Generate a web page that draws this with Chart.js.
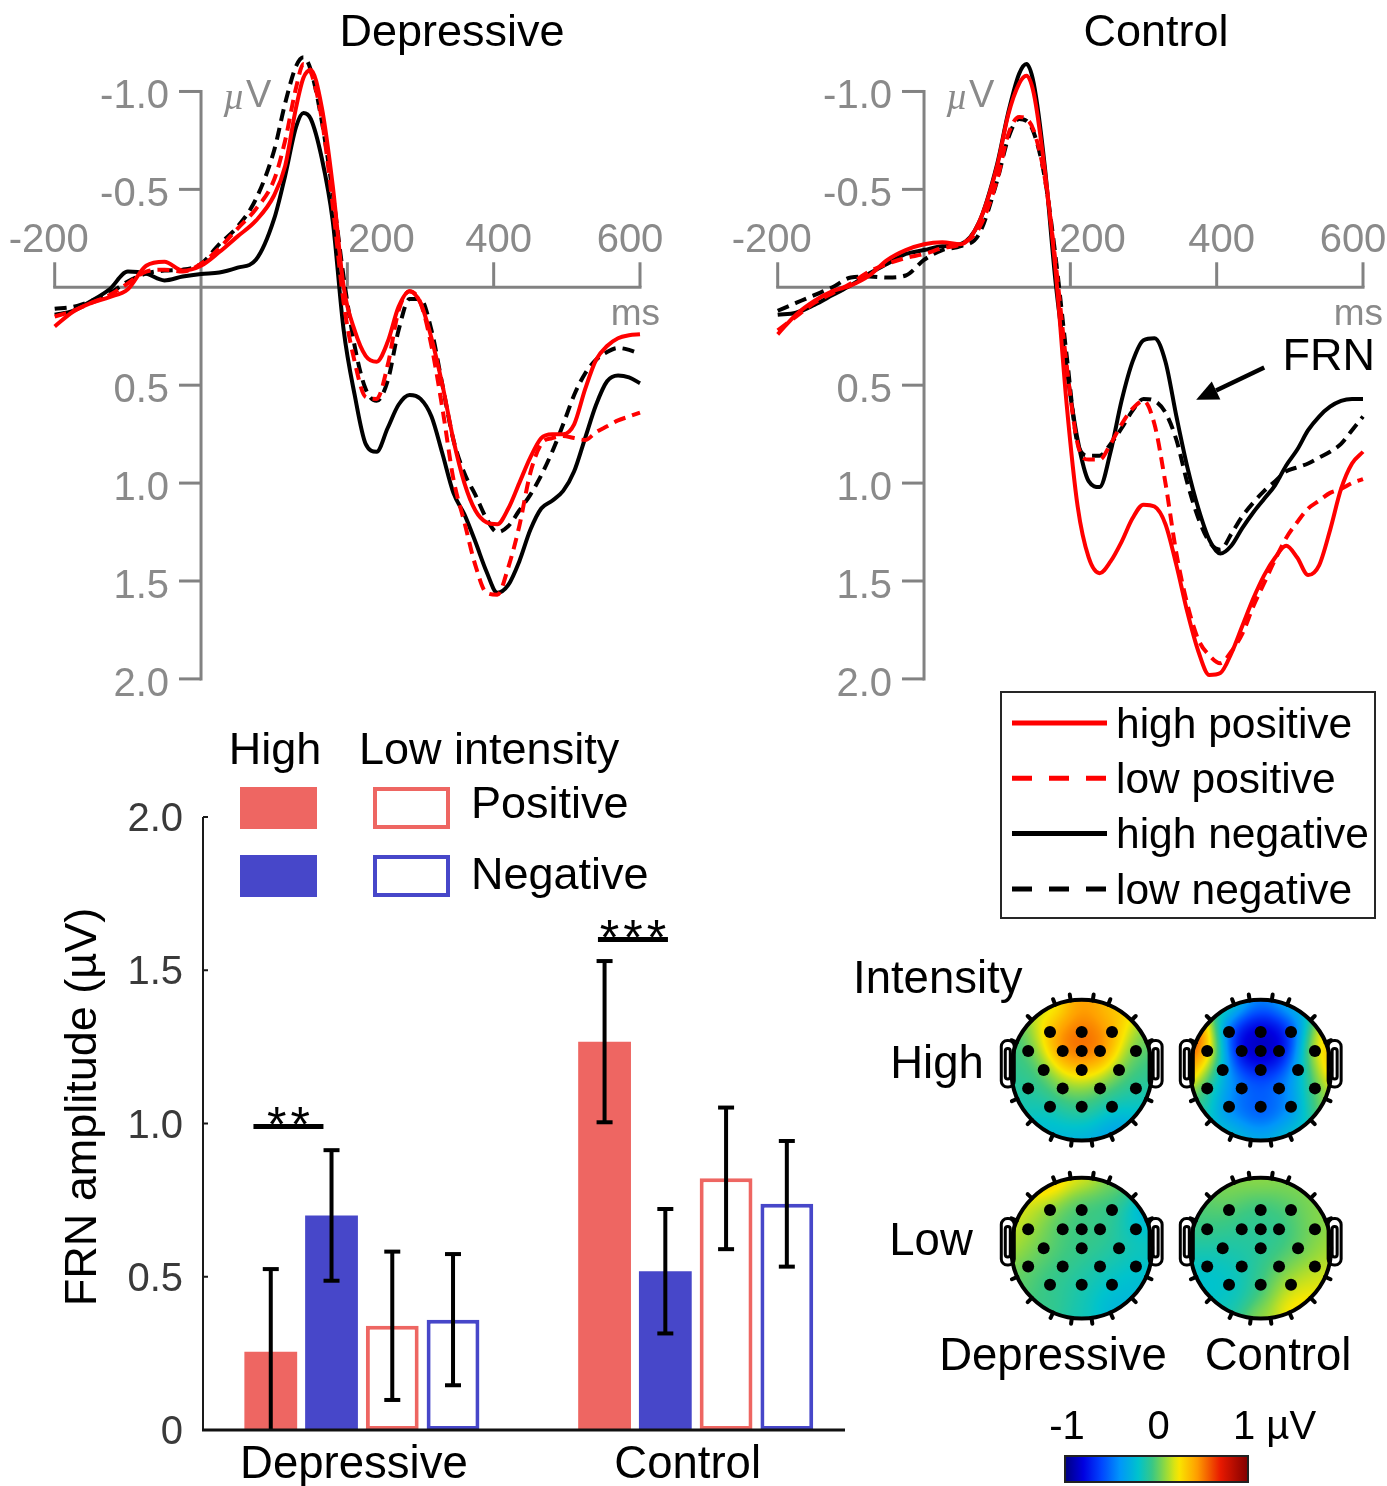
<!DOCTYPE html>
<html><head><meta charset="utf-8">
<script src="https://cdn.jsdelivr.net/npm/chart.js@4.4.1/dist/chart.umd.min.js"></script>
<style>
html,body{margin:0;padding:0;background:#fff;}
#wrap{position:relative;width:1387px;height:1486px;overflow:hidden;background:#fff;}
canvas{position:absolute;}
</style></head><body>
<div id="wrap">
<canvas id="erpDep" width="720" height="720" style="left:0;top:0;width:720px;height:720px"></canvas>
<canvas id="erpCon" width="667" height="930" style="left:720px;top:0;width:667px;height:930px"></canvas>
<canvas id="bars" width="870" height="766" style="left:0;top:720px;width:870px;height:766px"></canvas>
<canvas id="topo" width="547" height="556" style="left:840px;top:930px;width:547px;height:556px"></canvas>
</div>
<script>
// ---------------- DATA ----------------
const times = [-200,-175,-150,-125,-100,-75,-50,-25,0,25,50,75,100,115,130,140,150,165,180,195,210,225,240,255,270,285,300,315,330,345,360,375,390,405,420,435,450,465,480,495,510,525,540,555,570,585,600];

const depHighPos = [0.20,0.125,0.08,0.05,0.01,-0.11,-0.13,-0.085,-0.11,-0.18,-0.26,-0.34,-0.47,-0.62,-0.92,-1.07,-1.11,-0.92,-0.52,0.0,0.22,0.35,0.38,0.28,0.10,0.02,0.08,0.26,0.50,0.78,1.0,1.14,1.20,1.21,1.13,1.00,0.87,0.77,0.75,0.75,0.70,0.52,0.37,0.30,0.26,0.245,0.24];
const depLowPos  = [0.15,0.12,0.08,0.04,-0.02,-0.08,-0.09,-0.08,-0.12,-0.20,-0.30,-0.40,-0.55,-0.75,-1.02,-1.14,-1.10,-0.86,-0.42,0.08,0.38,0.56,0.57,0.40,0.12,0.02,0.08,0.30,0.62,0.98,1.20,1.42,1.56,1.57,1.43,1.22,0.95,0.80,0.77,0.76,0.77,0.78,0.74,0.71,0.68,0.66,0.64];
const depHighNeg = [0.14,0.12,0.07,0.01,-0.08,-0.07,-0.035,-0.055,-0.068,-0.075,-0.10,-0.14,-0.35,-0.57,-0.82,-0.89,-0.86,-0.66,-0.34,0.22,0.55,0.80,0.84,0.72,0.60,0.55,0.57,0.66,0.85,1.05,1.16,1.30,1.45,1.56,1.52,1.40,1.24,1.13,1.09,1.04,0.94,0.77,0.60,0.48,0.45,0.46,0.49];
const depLowNeg  = [0.11,0.10,0.07,0.03,-0.03,-0.07,-0.085,-0.09,-0.12,-0.22,-0.31,-0.45,-0.70,-0.94,-1.13,-1.175,-1.11,-0.85,-0.48,-0.05,0.30,0.52,0.58,0.48,0.22,0.06,0.06,0.22,0.50,0.78,0.95,1.06,1.18,1.25,1.22,1.14,1.06,0.96,0.84,0.70,0.55,0.44,0.37,0.33,0.31,0.32,0.34];

const conHighPos = [0.24,0.14,0.07,0.02,-0.01,-0.06,-0.14,-0.19,-0.22,-0.23,-0.22,-0.33,-0.62,-0.88,-1.04,-1.08,-0.99,-0.60,-0.08,0.60,1.12,1.38,1.46,1.40,1.30,1.18,1.11,1.12,1.21,1.42,1.66,1.86,1.98,1.97,1.87,1.73,1.59,1.47,1.38,1.32,1.38,1.47,1.42,1.24,1.03,0.90,0.84];
const conLowPos  = [0.22,0.15,0.08,0.03,-0.02,-0.08,-0.12,-0.15,-0.17,-0.20,-0.22,-0.30,-0.55,-0.78,-0.87,-0.86,-0.80,-0.56,-0.12,0.40,0.80,0.88,0.88,0.80,0.70,0.62,0.58,0.70,1.00,1.36,1.62,1.80,1.88,1.92,1.86,1.77,1.63,1.51,1.39,1.28,1.20,1.13,1.09,1.05,1.03,1.00,0.98];
const conHighNeg = [0.14,0.13,0.09,0.04,-0.01,-0.07,-0.12,-0.17,-0.19,-0.21,-0.22,-0.33,-0.63,-0.89,-1.09,-1.14,-1.04,-0.62,-0.02,0.42,0.78,0.99,1.02,0.84,0.58,0.38,0.27,0.26,0.38,0.66,0.92,1.13,1.29,1.36,1.32,1.23,1.15,1.08,1.01,0.91,0.83,0.73,0.66,0.61,0.58,0.57,0.57];
const conLowNeg  = [0.12,0.08,0.04,0.0,-0.05,-0.055,-0.05,-0.06,-0.14,-0.19,-0.21,-0.27,-0.545,-0.76,-0.86,-0.85,-0.79,-0.56,-0.15,0.35,0.80,0.86,0.86,0.80,0.72,0.63,0.57,0.58,0.64,0.78,1.00,1.18,1.30,1.34,1.26,1.17,1.10,1.04,0.99,0.94,0.92,0.90,0.87,0.84,0.80,0.73,0.66];

const erpLabels = ['high positive','low positive','high negative','low negative'];
const erpYTicks = [-1.0,-0.5,0.5,1.0,1.5,2.0];
const erpXTicks = [-200,200,400,600];
const frnArrow = {fromT:465, fromV:0.41, toT:372, toV:0.575, textT:490, textV:0.36, text:'FRN'};

// bar chart
const groups = ['Depressive','Control'];
const barSeries = ['High Positive','High Negative','Low Positive','Low Negative'];
const highPos = [0.255,1.267];
const highNeg = [0.70,0.518];
const lowPos  = [0.34,0.821];
const lowNeg  = [0.36,0.738];
const highPosErr = [0.27,0.263];
const highNegErr = [0.213,0.203];
const lowPosErr  = [0.242,0.231];
const lowNegErr  = [0.214,0.205];
const barYTicks = [0,0.5,1.0,1.5,2.0];
const sigGroup = [0,1];
const sigY = [0.99,1.60];
const sigLabel = ['**','***'];

// topographic maps
const topoRows = ['High','Low'];
const topoCols = ['Depressive','Control'];
const elecX = [-0.45,0,0.43,-0.76,-0.27,0,0.26,0.77,-0.54,0,0.53,-0.76,-0.27,0.26,0.77,-0.45,0,0.43];
const elecY = [-0.54,-0.54,-0.54,-0.27,-0.27,-0.27,-0.27,-0.27,0,0,0,0.26,0.26,0.26,0.26,0.52,0.52,0.52];
const rimAngles = [0,30,60,90,120,150,180,210,240,270,300,330];
const highDepElec = [0.42,0.5,0.42, -0.05,0.58,0.64,0.58,-0.02, -0.02,0.25,0.02, -0.1,0.12,0.08,-0.08, -0.2,-0.1,-0.22];
const highDepRim  = [-0.08,-0.22,-0.38,-0.28,-0.25,-0.15,-0.08,-0.05,0.12,0.45,0.3,0.05];
const highConElec = [-0.78,-0.8,-0.78, 0.55,-0.92,-0.98,-0.92,0.3, -0.35,-0.65,-0.35, -0.08,-0.45,-0.45,0.0, -0.55,-0.62,-0.5];
const highConRim  = [0.5,0.15,-0.15,-0.3,-0.15,0.0,0.6,0.8,0.0,-0.45,-0.15,0.4];
const lowDepElec  = [0.05,-0.03,-0.06, 0.1,-0.03,-0.05,-0.06,-0.18, 0.03,-0.05,-0.1, 0.0,-0.05,-0.12,-0.2, -0.08,-0.14,-0.22];
const lowDepRim   = [-0.15,-0.25,-0.28,-0.15,-0.05,0.02,0.18,0.25,0.4,0.22,0.05,-0.35];
const lowConElec  = [0.02,-0.02,0.0, -0.05,-0.1,-0.1,-0.08,0.05, -0.12,-0.1,0.0, -0.2,-0.15,0.0,0.12, -0.22,-0.05,0.2];
const lowConRim   = [0.15,0.25,0.3,0.1,-0.15,-0.22,-0.12,0.0,0.08,0.1,0.08,0.1];
const cbTicks = [-1,0,1];
const cbTickLabels = ['-1','0','1 µV'];

// ---------------- STYLE ----------------
const FONT = '"Liberation Sans", Arial, Helvetica, sans-serif';
const AXIS_GRAY = '#828282';
const LABEL_GRAY = '#8a8a8a';
const erpColors = ['#ff0000','#ff0000','#000000','#000000'];
const erpDashed = [false,true,false,true];
const RED = '#ee6662';
const BLUE = '#4747c9';
Chart.defaults.font.family = FONT;

const cmapStops = [
  [0.00, 0, 0, 128], [0.10, 0, 0, 225], [0.20, 0, 70, 255], [0.30, 0, 150, 250],
  [0.40, 0, 195, 205], [0.48, 60, 200, 130], [0.55, 150, 218, 60], [0.62, 250, 232, 0],
  [0.72, 255, 160, 0], [0.85, 232, 25, 0], [1.00, 128, 0, 0]
];
function cmap(v){
  const s = Math.max(0, Math.min(1, (v + 1) / 2));
  for (let i = 1; i < cmapStops.length; i++) {
    const a = cmapStops[i - 1], b = cmapStops[i];
    if (s <= b[0]) {
      const f = (s - a[0]) / (b[0] - a[0]);
      return [a[1] + f * (b[1] - a[1]), a[2] + f * (b[2] - a[2]), a[3] + f * (b[3] - a[3])];
    }
  }
  const l = cmapStops[cmapStops.length - 1]; return [l[1], l[2], l[3]];
}

// ---------------- ERP CHARTS ----------------
const erpDecor = {
  id: 'erpDecor',
  beforeDatasetsDraw(chart, args, o) {
    const ctx = chart.ctx, xs = chart.scales.x, ys = chart.scales.y;
    const x0 = xs.getPixelForValue(0), y0 = ys.getPixelForValue(0);
    ctx.save();
    ctx.strokeStyle = AXIS_GRAY; ctx.lineWidth = 3; ctx.lineCap = 'butt';
    ctx.beginPath();
    ctx.moveTo(x0, ys.getPixelForValue(erpYTicks[0]) - 1.5);
    ctx.lineTo(x0, ys.getPixelForValue(erpYTicks[erpYTicks.length - 1]) + 1.5);
    ctx.stroke();
    ctx.fillStyle = LABEL_GRAY; ctx.font = '40px ' + FONT; ctx.textAlign = 'right'; ctx.textBaseline = 'middle';
    erpYTicks.forEach(v => {
      const y = ys.getPixelForValue(v);
      ctx.beginPath(); ctx.moveTo(x0 - 22, y); ctx.lineTo(x0, y); ctx.stroke();
      ctx.fillText(v.toFixed(1), x0 - 32, y + 6);
    });
    const xa = xs.getPixelForValue(erpXTicks[0]), xb = xs.getPixelForValue(erpXTicks[erpXTicks.length - 1]);
    ctx.beginPath(); ctx.moveTo(xa - 1.5, y0); ctx.lineTo(xb + 1.5, y0); ctx.stroke();
    ctx.textAlign = 'center';
    erpXTicks.forEach((t, i) => {
      const x = xs.getPixelForValue(t);
      ctx.beginPath(); ctx.moveTo(x, y0); ctx.lineTo(x, y0 - 25); ctx.stroke();
      ctx.fillText(String(t), x + o.xShift[i], y0 - 46);
    });
    ctx.textAlign = 'left';
    ctx.font = 'italic 38px "Liberation Serif", "DejaVu Serif", serif';
    const yTop = ys.getPixelForValue(erpYTicks[0]);
    ctx.fillText('µ', x0 + 22, yTop + 8);
    const mw = ctx.measureText('µ').width;
    ctx.font = '38px ' + FONT;
    ctx.fillText('V', x0 + 22 + mw + 1, yTop + 5);
    ctx.textAlign = 'right';
    ctx.font = '37px ' + FONT;
    ctx.fillText('ms', xb + 20, y0 + 28);
    ctx.fillStyle = '#000'; ctx.textAlign = 'center'; ctx.font = '45px ' + FONT;
    ctx.fillText(o.title, o.titleX, 34);
    ctx.restore();
  },
  afterDatasetsDraw(chart, args, o) {
    const ctx = chart.ctx, xs = chart.scales.x, ys = chart.scales.y;
    ctx.save();
    if (o.frn) {
      const x1 = xs.getPixelForValue(frnArrow.fromT), y1 = ys.getPixelForValue(frnArrow.fromV);
      const x2 = xs.getPixelForValue(frnArrow.toT), y2 = ys.getPixelForValue(frnArrow.toV);
      const ang = Math.atan2(y2 - y1, x2 - x1);
      const hl = 22, hw = 10;
      const bx = x2 - hl * Math.cos(ang), by = y2 - hl * Math.sin(ang);
      ctx.strokeStyle = '#000'; ctx.lineWidth = 4.5;
      ctx.beginPath(); ctx.moveTo(x1, y1); ctx.lineTo(bx, by); ctx.stroke();
      ctx.fillStyle = '#000';
      ctx.beginPath(); ctx.moveTo(x2, y2);
      ctx.lineTo(bx + hw * Math.sin(ang), by - hw * Math.cos(ang));
      ctx.lineTo(bx - hw * Math.sin(ang), by + hw * Math.cos(ang));
      ctx.closePath(); ctx.fill();
      ctx.font = '45px ' + FONT; ctx.textAlign = 'left'; ctx.textBaseline = 'middle';
      ctx.fillText(frnArrow.text, xs.getPixelForValue(frnArrow.textT), ys.getPixelForValue(frnArrow.textV));
    }
    if (o.legend) {
      const b = o.legend;
      ctx.strokeStyle = '#262626'; ctx.lineWidth = 2;
      ctx.strokeRect(b.x, b.y, b.w, b.h);
      ctx.font = '42.5px ' + FONT; ctx.textAlign = 'left'; ctx.textBaseline = 'middle';
      chart.data.datasets.forEach((d, i) => {
        const y = b.y + 31 + i * 55.3;
        ctx.strokeStyle = d.borderColor; ctx.lineWidth = 5;
        ctx.setLineDash(d.borderDash && d.borderDash.length ? [20, 17] : []);
        ctx.beginPath(); ctx.moveTo(b.x + 11, y); ctx.lineTo(b.x + 106, y); ctx.stroke();
        ctx.setLineDash([]);
        ctx.fillStyle = '#000';
        ctx.fillText(d.label, b.x + 115, y + 3);
      });
    }
    ctx.restore();
  }
};

function makeErp(id, series, padding, decor) {
  const datasets = series.map((vals, i) => ({
    label: erpLabels[i],
    data: times.map((t, k) => ({x: t, y: vals[k]})),
    borderColor: erpColors[i],
    borderWidth: 4,
    borderDash: erpDashed[i] ? [12, 7] : [],
    pointRadius: 0,
    fill: false,
    cubicInterpolationMode: 'monotone',
    clip: false
  }));
  return new Chart(document.getElementById(id), {
    type: 'line',
    data: {datasets},
    options: {
      responsive: false, animation: false, devicePixelRatio: 1,
      layout: {padding},
      plugins: {legend: {display: false}, tooltip: {enabled: false}, title: {display: false}, erpDecor: decor},
      scales: {
        x: {type: 'linear', min: -200, max: 600, display: false},
        y: {type: 'linear', min: -1.2, max: 2.0, reverse: true, display: false}
      }
    },
    plugins: [erpDecor]
  });
}

makeErp('erpDep', [depHighPos, depLowPos, depHighNeg, depLowNeg],
  {left: 54.7, right: 80, top: 52.3, bottom: 41.1},
  {title: 'Depressive', titleX: 452, xShift: [-6, 34, 5, -10], frn: false, legend: null});
makeErp('erpCon', [conHighPos, conLowPos, conHighNeg, conLowNeg],
  {left: 57.7, right: 24, top: 52.3, bottom: 251.1},
  {title: 'Control', titleX: 436, xShift: [-6, 22, 5, -10], frn: true, legend: {x: 281, y: 692, w: 374, h: 226}});

// ---------------- BAR CHART ----------------
const barVals = [highPos, highNeg, lowPos, lowNeg];
const barErrs = [highPosErr, highNegErr, lowPosErr, lowNegErr];
const barFilled = [true, true, false, false];
const barColors = [RED, BLUE, RED, BLUE];
const sigShift = [-12.7, -2];

const barDecor = {
  id: 'barDecor',
  afterDatasetsDraw(chart) {
    const ctx = chart.ctx, xs = chart.scales.x, ys = chart.scales.y;
    const axX = 203, axR = 845;
    const y0 = ys.getPixelForValue(0);
    ctx.save();
    ctx.strokeStyle = '#000'; ctx.lineWidth = 4; ctx.lineCap = 'butt';
    chart.data.datasets.forEach((d, i) => {
      chart.getDatasetMeta(i).data.forEach((el, j) => {
        const v = barVals[i][j], e = barErrs[i][j];
        const yt = ys.getPixelForValue(v + e);
        const yb = Math.min(ys.getPixelForValue(v - e), y0);
        ctx.beginPath(); ctx.moveTo(el.x, yt); ctx.lineTo(el.x, yb); ctx.stroke();
        ctx.beginPath(); ctx.moveTo(el.x - 8, yt); ctx.lineTo(el.x + 8, yt); ctx.stroke();
        if (yb < y0 - 2) { ctx.beginPath(); ctx.moveTo(el.x - 8, yb); ctx.lineTo(el.x + 8, yb); ctx.stroke(); }
      });
    });
    sigGroup.forEach((g, k) => {
      const c1 = chart.getDatasetMeta(0).data[g].x, c2 = chart.getDatasetMeta(1).data[g].x;
      const mid = (c1 + c2) / 2 + sigShift[k];
      const y = ys.getPixelForValue(sigY[k]);
      ctx.lineWidth = 5;
      ctx.beginPath(); ctx.moveTo(mid - 35, y); ctx.lineTo(mid + 35, y); ctx.stroke();
      ctx.fillStyle = '#000'; ctx.font = '50px ' + FONT; ctx.textAlign = 'center'; ctx.textBaseline = 'alphabetic';
      const n = sigLabel[k].length;
      for (let s = 0; s < n; s++) ctx.fillText('*', mid + (s - (n - 1) / 2) * 23.5, y + 15);
    });
    ctx.strokeStyle = '#1a1a1a'; ctx.lineWidth = 2;
    ctx.beginPath(); ctx.moveTo(axX, ys.getPixelForValue(barYTicks[barYTicks.length - 1])); ctx.lineTo(axX, y0); ctx.stroke();
    ctx.fillStyle = '#3a3a3a'; ctx.font = '40px ' + FONT; ctx.textAlign = 'right'; ctx.textBaseline = 'middle';
    barYTicks.forEach(v => {
      const y = ys.getPixelForValue(v);
      ctx.beginPath(); ctx.moveTo(axX, y); ctx.lineTo(axX + 5, y); ctx.stroke();
      ctx.fillText(v === 0 ? '0' : v.toFixed(1), axX - 20, y + 3);
    });
    ctx.strokeStyle = '#111'; ctx.lineWidth = 3;
    ctx.beginPath(); ctx.moveTo(axX - 1, y0); ctx.lineTo(axR, y0); ctx.stroke();
    ctx.fillStyle = '#000'; ctx.font = '45.5px ' + FONT; ctx.textAlign = 'center';
    groups.forEach((g, i) => ctx.fillText(g, xs.getPixelForValue(i) - 8, 745));
    ctx.save(); ctx.translate(84, 387); ctx.rotate(-Math.PI / 2);
    ctx.font = '45px ' + FONT; ctx.fillText('FRN amplitude (µV)', 0, 0); ctx.restore();
    ctx.font = '45px ' + FONT; ctx.textBaseline = 'middle';
    ctx.textAlign = 'center'; ctx.fillText('High', 275, 32);
    ctx.textAlign = 'left'; ctx.fillText('Low intensity', 359, 32);
    const sw = [[240, 67], [240, 135], [373, 67], [373, 135]];
    chart.data.datasets.forEach((d, i) => {
      const [sx, sy] = sw[i];
      if (barFilled[i]) { ctx.fillStyle = barColors[i]; ctx.fillRect(sx, sy, 77, 42); }
      else { ctx.strokeStyle = barColors[i]; ctx.lineWidth = 4; ctx.strokeRect(sx + 2, sy + 2, 73, 38); }
    });
    ctx.fillStyle = '#000';
    ctx.fillText('Positive', 471, 86);
    ctx.fillText('Negative', 471, 157);
    ctx.restore();
  }
};

new Chart(document.getElementById('bars'), {
  type: 'bar',
  data: {
    labels: groups,
    datasets: barVals.map((vals, i) => ({
      label: barSeries[i],
      data: vals,
      backgroundColor: barFilled[i] ? barColors[i] : '#ffffff',
      borderColor: barColors[i],
      borderWidth: barFilled[i] ? 0 : 4,
      borderSkipped: false,
      categoryPercentage: 0.728,
      barPercentage: 0.869
    }))
  },
  options: {
    responsive: false, animation: false, devicePixelRatio: 1,
    layout: {padding: {left: 195, right: 7.4, top: 97, bottom: 56}},
    plugins: {legend: {display: false}, tooltip: {enabled: false}, title: {display: false}},
    scales: {
      x: {type: 'category', display: false, offset: true},
      y: {type: 'linear', min: 0, max: 2.0, display: false}
    }
  },
  plugins: [barDecor]
});

// ---------------- TOPO MAPS ----------------
const topoVals = {
  'High|Depressive': [highDepElec, highDepRim],
  'High|Control': [highConElec, highConRim],
  'Low|Depressive': [lowDepElec, lowDepRim],
  'Low|Control': [lowConElec, lowConRim]
};
const COL_STEP = 2.542, ROW_STEP = 2.528, SIG = 0.23;
const heads = [];
topoRows.forEach((r, ri) => topoCols.forEach((c, ci) => {
  const v = topoVals[r + '|' + c];
  heads.push({cx: ci * COL_STEP, cy: ri * ROW_STEP, elec: v[0], rim: v[1]});
}));

const topoDecor = {
  id: 'topoDecor',
  beforeDatasetsDraw(chart) {
    const ctx = chart.ctx, xs = chart.scales.x, ys = chart.scales.y;
    const R = xs.getPixelForValue(1) - xs.getPixelForValue(0);
    ctx.save();
    heads.forEach(h => {
      const cx = xs.getPixelForValue(h.cx), cy = ys.getPixelForValue(h.cy);
      const pts = elecX.map((x, k) => [x, elecY[k], h.elec[k]]).concat(
        rimAngles.map((a, k) => [Math.cos(a * Math.PI / 180) * 1.02, Math.sin(a * Math.PI / 180) * 1.02, h.rim[k]]));
      const S = Math.ceil(2 * R) + 4;
      const off = document.createElement('canvas'); off.width = S; off.height = S;
      const octx = off.getContext('2d'); const img = octx.createImageData(S, S);
      for (let py = 0; py < S; py++) for (let px = 0; px < S; px++) {
        const ux = (px + 0.5 - S / 2) / R, uy = (py + 0.5 - S / 2) / R;
        let sw = 0, sv = 0, best = 1e9, bv = 0;
        for (const p of pts) {
          const d2 = (ux - p[0]) ** 2 + (uy - p[1]) ** 2;
          const w = Math.exp(-d2 / (2 * SIG * SIG)); sw += w; sv += w * p[2];
          if (d2 < best) { best = d2; bv = p[2]; }
        }
        const v = sw > 1e-9 ? sv / sw : bv;
        const col = cmap(v); const i = (py * S + px) * 4;
        img.data[i] = col[0]; img.data[i + 1] = col[1]; img.data[i + 2] = col[2]; img.data[i + 3] = 255;
      }
      octx.putImageData(img, 0, 0);
      ctx.save(); ctx.beginPath(); ctx.arc(cx, cy, R, 0, 2 * Math.PI); ctx.clip();
      ctx.drawImage(off, cx - S / 2, cy - S / 2); ctx.restore();
      ctx.strokeStyle = '#000'; ctx.lineWidth = 4;
      ctx.beginPath(); ctx.arc(cx, cy, R, 0, 2 * Math.PI); ctx.stroke();
      ctx.lineWidth = 3;
      [-1, 1].forEach(sd => {
        const ex = sd < 0 ? cx - R - 10 : cx + R - 3;
        const ey = cy - 0.42 * R, eh = 0.66 * R;
        ctx.beginPath(); ctx.roundRect(ex, ey, 13, eh, 6); ctx.stroke();
        ctx.beginPath(); ctx.roundRect(ex + 4, ey + 8, 5, eh - 16, 3); ctx.stroke();
      });
      ctx.lineWidth = 4; ctx.lineCap = 'round';
      [-112, -99, -81, -68, -135, -45, -157, -23, 24, 156, 45, 135, 66, 114, 82, 98].forEach(a => {
        const r = a * Math.PI / 180;
        ctx.beginPath();
        ctx.moveTo(cx + Math.cos(r) * R, cy + Math.sin(r) * R);
        ctx.lineTo(cx + Math.cos(r) * (R + 6), cy + Math.sin(r) * (R + 6));
        ctx.stroke();
      });
    });
    ctx.restore();
  },
  afterDraw(chart) {
    const ctx = chart.ctx;
    ctx.save();
    ctx.fillStyle = '#000'; ctx.font = '45.5px ' + FONT; ctx.textBaseline = 'middle';
    ctx.textAlign = 'left'; ctx.fillText('Intensity', 13, 50);
    ctx.textAlign = 'center';
    ctx.fillText(topoRows[0], 97, 135);
    ctx.fillText(topoRows[1], 91, 312);
    ctx.fillText(topoCols[0], 213, 427);
    ctx.fillText(topoCols[1], 438, 427);
    const bx = 225, bw = 183, by = 526, bh = 26;
    const grd = ctx.createLinearGradient(bx, 0, bx + bw, 0);
    for (let k = 0; k <= 40; k++) { const c = cmap(-1 + k / 20); grd.addColorStop(k / 40, `rgb(${c[0]|0},${c[1]|0},${c[2]|0})`); }
    ctx.fillStyle = grd; ctx.fillRect(bx, by, bw, bh);
    ctx.strokeStyle = '#222'; ctx.lineWidth = 2; ctx.strokeRect(bx, by, bw, bh);
    ctx.fillStyle = '#000'; ctx.font = '40px ' + FONT;
    cbTicks.forEach((t, i) => {
      const x = bx + (t + 1) / 2 * bw;
      if (i === cbTicks.length - 1) { ctx.textAlign = 'left'; ctx.fillText(cbTickLabels[i], x - 15, 498); }
      else { ctx.textAlign = 'center'; ctx.fillText(cbTickLabels[i], x + 2, 498); }
    });
    ctx.restore();
  }
};

new Chart(document.getElementById('topo'), {
  type: 'scatter',
  data: {
    datasets: [{
      label: 'electrodes',
      data: heads.flatMap(h => elecX.map((x, k) => ({x: h.cx + x, y: h.cy + elecY[k]}))),
      pointRadius: 6, pointBackgroundColor: '#000', pointBorderWidth: 0, showLine: false
    }]
  },
  options: {
    responsive: false, animation: false, devicePixelRatio: 1,
    layout: {padding: 0},
    plugins: {legend: {display: false}, tooltip: {enabled: false}, title: {display: false}},
    scales: {
      x: {type: 'linear', min: -3.347, max: 4.25, display: false},
      y: {type: 'linear', min: -1.903, max: 5.819, reverse: true, display: false}
    }
  },
  plugins: [topoDecor]
});
</script>
</body></html>
